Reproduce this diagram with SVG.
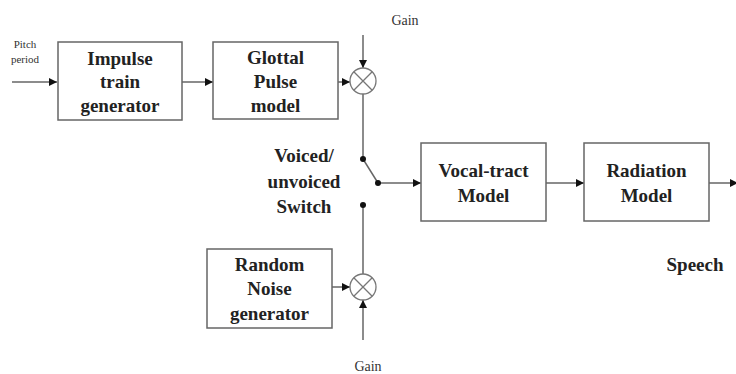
<svg xmlns="http://www.w3.org/2000/svg" width="736" height="374" viewBox="0 0 736 374">
<defs>
<marker id="arr" markerWidth="8" markerHeight="8" refX="8" refY="4" orient="auto" markerUnits="userSpaceOnUse">
<path d="M0,0 L8,4 L0,8 Z" fill="#111"/>
</marker>
</defs>
<style>
.box{fill:#fff;stroke:#666;stroke-width:1.5}
.ln{fill:none;stroke:#666;stroke-width:1.5}
.t{font-family:"Liberation Serif","Times New Roman",serif;font-weight:bold;font-size:19px;fill:#222;text-anchor:middle}
.s{font-family:"Liberation Serif","Times New Roman",serif;fill:#333;text-anchor:middle}
.mul{fill:#fff;stroke:#777;stroke-width:1.3}
.dot{fill:#111}
</style>
<rect width="736" height="374" fill="#fff"/>
<g id="connectors">
<line class="ln" x1="12" y1="82" x2="57" y2="82" marker-end="url(#arr)"/>
<line class="ln" x1="182" y1="82" x2="213" y2="82" marker-end="url(#arr)"/>
<line class="ln" x1="338" y1="82" x2="350" y2="82" marker-end="url(#arr)"/>
<line class="ln" x1="363" y1="35" x2="363" y2="68" marker-end="url(#arr)"/>
<line class="ln" x1="363" y1="94" x2="363" y2="159"/>
<line class="ln" x1="363" y1="159" x2="378" y2="183"/>
<line class="ln" x1="378" y1="183" x2="421" y2="183" marker-end="url(#arr)"/>
<line class="ln" x1="363" y1="205" x2="363" y2="274"/>
<line class="ln" x1="332" y1="287" x2="350" y2="287" marker-end="url(#arr)"/>
<line class="ln" x1="363" y1="340" x2="363" y2="300" marker-end="url(#arr)"/>
<line class="ln" x1="546" y1="183" x2="584" y2="183" marker-end="url(#arr)"/>
<line class="ln" x1="709" y1="183" x2="738" y2="183" marker-end="url(#arr)"/>
<circle class="dot" cx="363" cy="159" r="3"/>
<circle class="dot" cx="378" cy="183" r="3"/>
<circle class="dot" cx="363" cy="205" r="3"/>
</g>
<g id="pitch">
<text class="s" x="25" y="48" font-size="11">Pitch</text>
<text class="s" x="25" y="63" font-size="11">period</text>
</g>
<g id="impulse">
<rect class="box" x="58" y="42" width="124" height="78"/>
<text class="t" x="120" y="65">Impulse</text>
<text class="t" x="120" y="88">train</text>
<text class="t" x="120" y="112">generator</text>
</g>
<g id="glottal">
<rect class="box" x="213" y="42" width="125" height="77"/>
<text class="t" x="275.5" y="64">Glottal</text>
<text class="t" x="275.5" y="88">Pulse</text>
<text class="t" x="275.5" y="112">model</text>
</g>
<g id="mult1">
<circle class="mul" cx="363" cy="81" r="13"/>
<path class="mul" d="M353.8,71.8 L372.2,90.2 M372.2,71.8 L353.8,90.2"/>
</g>
<g id="gain1">
<text class="s" x="405" y="25" font-size="14">Gain</text>
</g>
<g id="switch">
<text class="t" x="304" y="162" font-size="20">Voiced/</text>
<text class="t" x="304" y="188" font-size="20">unvoiced</text>
<text class="t" x="304" y="213" font-size="20">Switch</text>
</g>
<g id="noise">
<rect class="box" x="207" y="249" width="125" height="79"/>
<text class="t" x="269.5" y="271">Random</text>
<text class="t" x="269.5" y="295">Noise</text>
<text class="t" x="269.5" y="320">generator</text>
</g>
<g id="mult2">
<circle class="mul" cx="363" cy="287" r="13"/>
<path class="mul" d="M353.8,277.8 L372.2,296.2 M372.2,277.8 L353.8,296.2"/>
</g>
<g id="gain2">
<text class="s" x="368" y="371" font-size="14">Gain</text>
</g>
<g id="vocal">
<rect class="box" x="421" y="143" width="125" height="78"/>
<text class="t" x="483.5" y="177">Vocal-tract</text>
<text class="t" x="483.5" y="202">Model</text>
</g>
<g id="radiation">
<rect class="box" x="584" y="143" width="125" height="78"/>
<text class="t" x="646.5" y="177">Radiation</text>
<text class="t" x="646.5" y="202">Model</text>
</g>
<g id="speech">
<text class="t" x="695" y="271" font-size="17">Speech</text>
</g>
</svg>
